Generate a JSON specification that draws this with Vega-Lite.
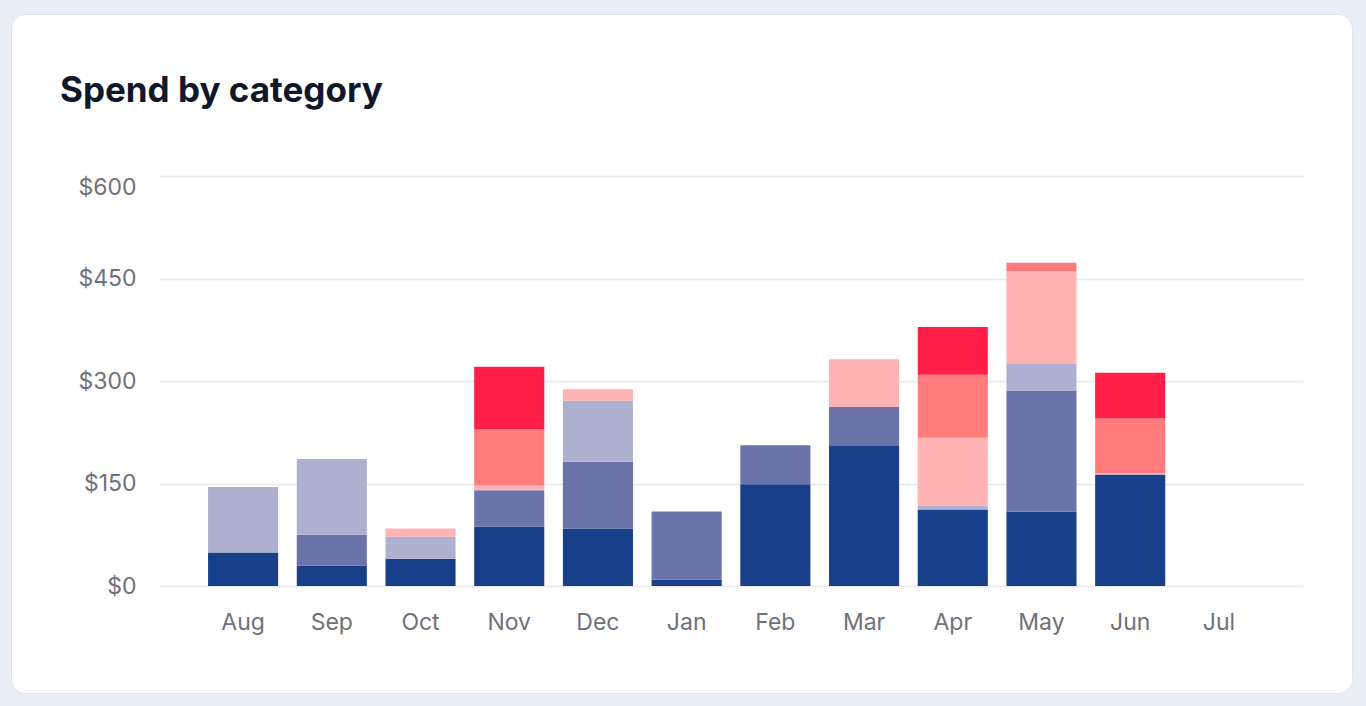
{
  "$schema": "https://vega.github.io/schema/vega-lite/v6.json",
  "width": 1341,
  "height": 679,
  "autosize": {"type": "none"},
  "padding": {"left": 11, "top": 14, "right": 14, "bottom": 13},
  "background": "#e9eef6",
  "title": {
    "text": "Spend by category",
    "anchor": "start",
    "frame": "group",
    "dx": 49,
    "offset": -95,
    "font": "Inter",
    "fontSize": 35,
    "fontWeight": 700,
    "color": "#0f172a"
  },
  "data": {
    "values": [
      {"month": "Aug", "category": "Advertising", "spend": 49},
      {"month": "Aug", "category": "Equipment", "spend": 96},
      {"month": "Sep", "category": "Advertising", "spend": 30},
      {"month": "Sep", "category": "Contractors", "spend": 45},
      {"month": "Sep", "category": "Equipment", "spend": 111},
      {"month": "Oct", "category": "Advertising", "spend": 40},
      {"month": "Oct", "category": "Equipment", "spend": 32},
      {"month": "Oct", "category": "Software", "spend": 12},
      {"month": "Nov", "category": "Advertising", "spend": 87},
      {"month": "Nov", "category": "Contractors", "spend": 53},
      {"month": "Nov", "category": "Software", "spend": 7},
      {"month": "Nov", "category": "Travel", "spend": 82},
      {"month": "Nov", "category": "Utilities", "spend": 92},
      {"month": "Dec", "category": "Advertising", "spend": 84},
      {"month": "Dec", "category": "Contractors", "spend": 98},
      {"month": "Dec", "category": "Equipment", "spend": 89},
      {"month": "Dec", "category": "Software", "spend": 17},
      {"month": "Jan", "category": "Advertising", "spend": 9},
      {"month": "Jan", "category": "Contractors", "spend": 100},
      {"month": "Feb", "category": "Advertising", "spend": 149},
      {"month": "Feb", "category": "Contractors", "spend": 57},
      {"month": "Mar", "category": "Advertising", "spend": 205},
      {"month": "Mar", "category": "Contractors", "spend": 57},
      {"month": "Mar", "category": "Software", "spend": 70},
      {"month": "Apr", "category": "Advertising", "spend": 112},
      {"month": "Apr", "category": "Equipment", "spend": 5},
      {"month": "Apr", "category": "Software", "spend": 100},
      {"month": "Apr", "category": "Travel", "spend": 92},
      {"month": "Apr", "category": "Utilities", "spend": 70},
      {"month": "May", "category": "Advertising", "spend": 109},
      {"month": "May", "category": "Contractors", "spend": 177},
      {"month": "May", "category": "Equipment", "spend": 39},
      {"month": "May", "category": "Software", "spend": 136},
      {"month": "May", "category": "Travel", "spend": 12},
      {"month": "Jun", "category": "Advertising", "spend": 163},
      {"month": "Jun", "category": "Software", "spend": 2},
      {"month": "Jun", "category": "Travel", "spend": 80},
      {"month": "Jun", "category": "Utilities", "spend": 67}
    ]
  },
  "mark": {"type": "bar"},
  "encoding": {
    "x": {
      "field": "month",
      "type": "nominal",
      "sort": null,
      "scale": {
        "domain": ["Aug", "Sep", "Oct", "Nov", "Dec", "Jan", "Feb", "Mar", "Apr", "May", "Jun", "Jul"],
        "range": [148, 1292],
        "paddingInner": 0.21,
        "paddingOuter": 0.553
      },
      "axis": {
        "title": null,
        "orient": "bottom",
        "offset": -107,
        "domain": false,
        "ticks": false,
        "grid": false,
        "labelAngle": 0,
        "labelPadding": 25,
        "labelFont": "Inter",
        "labelFontSize": 23,
        "labelColor": "#6e717a"
      }
    },
    "y": {
      "field": "spend",
      "type": "quantitative",
      "stack": "zero",
      "scale": {"domain": [0, 600], "range": [572, 162], "nice": false},
      "axis": {
        "title": null,
        "values": [0, 150, 300, 450, 600],
        "format": "$.0f",
        "offset": -135,
        "labelPadding": 10,
        "domain": false,
        "ticks": false,
        "grid": true,
        "gridColor": "#e7e8ec",
        "gridWidth": 1.5,
        "labelFont": "Inter",
        "labelFontSize": 23,
        "labelColor": "#6e717a",
        "labelBaseline": {"condition": {"test": "datum.value === 600", "value": "top"}, "value": "middle"}
      }
    },
    "color": {
      "field": "category",
      "type": "nominal",
      "scale": {
        "domain": ["Advertising", "Contractors", "Equipment", "Software", "Travel", "Utilities"],
        "range": ["#183f8a", "#6a74ab", "#aeb0d0", "#ffb3b3", "#ff7b7c", "#ff1e47"]
      },
      "legend": null
    },
    "order": {"field": "category", "sort": "ascending"}
  },
  "config": {
    "view": {"fill": "white", "stroke": "#dfe4ec", "strokeWidth": 1, "cornerRadius": 14}
  }
}
